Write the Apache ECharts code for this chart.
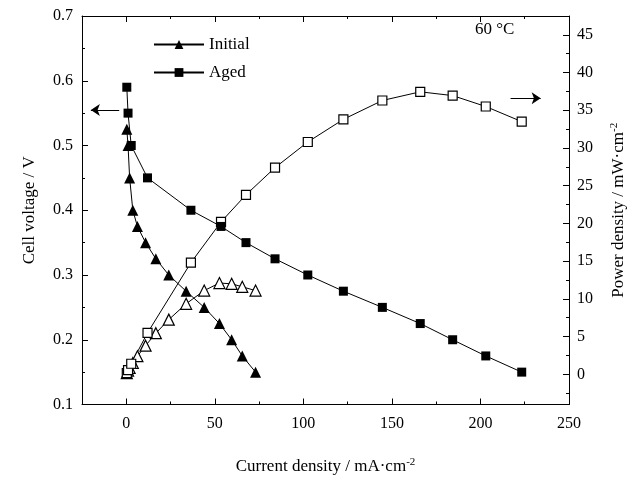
<!DOCTYPE html>
<html>
<head>
<meta charset="utf-8">
<script src="https://cdn.jsdelivr.net/npm/echarts@6/dist/echarts.min.js"></script>
<style>html,body{margin:0;padding:0;background:#fff}#c{width:638px;height:480px}</style>
</head>
<body>
<div id="c"></div>
<script>
// ---- data ----
const currentInitial = [0.3, 1.0, 1.9, 3.7, 6.3, 10.9, 16.7, 24, 33.8, 44, 52.6, 59.5, 65.5, 73];
const voltageInitial = [0.525, 0.5, 0.45, 0.4, 0.375, 0.35, 0.325, 0.3, 0.275, 0.25, 0.225, 0.2, 0.175, 0.15];
const powerInitial   = [0.15, 0.5, 0.85, 1.5, 2.4, 3.8, 5.45, 7.25, 9.35, 11.1, 12.1, 12.0, 11.6, 11.1];

const currentAged = [0.3, 1.0, 2.8, 12, 36.5, 53.5, 67.6, 84, 102.5, 122.6, 144.6, 166, 184.3, 203, 223.3];
const voltageAged = [0.59, 0.55, 0.5, 0.45, 0.4, 0.375, 0.35, 0.325, 0.3, 0.275, 0.25, 0.225, 0.2, 0.175, 0.15];
const powerAged   = [0.15, 0.55, 1.4, 5.5, 14.8, 20.2, 23.8, 27.4, 30.8, 33.8, 36.3, 37.45, 36.95, 35.5, 33.5];

const xTickLabels = [0, 50, 100, 150, 200, 250];
const xMinorTicks = [25, 75, 125, 175, 225];
const powerTickLabels = [0, 5, 10, 15, 20, 25, 30, 35, 40, 45];
const powerMinorTicks = [-2.5, 2.5, 7.5, 12.5, 17.5, 22.5, 27.5, 32.5, 37.5, 42.5];
const legendNames = ['Initial', 'Aged'];
const tempLabel = '60 °C';

// ---- chart ----
const FONT = 'Liberation Serif';
const black = '#000';
const lineSt = {color: black, width: 1};
const pairs = (a, b) => a.map((v, i) => [v, b[i]]);

const chart = echarts.init(document.getElementById('c'), null, {renderer: 'canvas'});

const supRich = {
  base: {fontFamily: FONT, fontSize: 17, color: black},
  sup: {fontFamily: FONT, fontSize: 11, color: black, padding: [0, 0, 9, 0]}
};

const option = {
  animation: false,
  backgroundColor: '#fff',
  textStyle: {fontFamily: FONT, color: black},
  grid: {left: 82, right: 69, top: 16, bottom: 75},
  legend: {
    data: legendNames,
    orient: 'vertical',
    left: 148,
    top: 31,
    itemWidth: 50,
    itemHeight: 11,
    itemGap: 11,
    textStyle: {fontFamily: FONT, fontSize: 17, color: black},
    inactiveColor: '#999'
  },
  xAxis: [
    {
      type: 'value', min: -25, max: 250, position: 'bottom',
      axisLine: {show: true, onZero: false, lineStyle: lineSt},
      axisTick: {show: true, inside: true, length: 6, customValues: xTickLabels, lineStyle: lineSt},
      axisLabel: {customValues: xTickLabels, fontFamily: FONT, fontSize: 16, color: black, margin: 11},
      splitLine: {show: false},
      name: '{base|Current density / mA·cm}{sup|-2}',
      nameLocation: 'middle', nameGap: 52,
      nameTextStyle: {rich: supRich}
    },
    {
      type: 'value', min: -25, max: 250, position: 'bottom',
      axisLine: {show: false, onZero: false},
      axisTick: {show: true, inside: true, length: 3, customValues: xMinorTicks, lineStyle: lineSt},
      axisLabel: {show: false}, splitLine: {show: false}
    },
    {
      type: 'value', min: -25, max: 250, position: 'top',
      axisLine: {show: true, onZero: false, lineStyle: lineSt},
      axisTick: {show: true, inside: true, length: 6, customValues: xTickLabels, lineStyle: lineSt},
      axisLabel: {show: false}, splitLine: {show: false}
    },
    {
      type: 'value', min: -25, max: 250, position: 'top',
      axisLine: {show: false, onZero: false},
      axisTick: {show: true, inside: true, length: 3, customValues: xMinorTicks, lineStyle: lineSt},
      axisLabel: {show: false}, splitLine: {show: false}
    }
  ],
  yAxis: [
    {
      type: 'value', min: 0.1, max: 0.7, interval: 0.1, position: 'left',
      axisLine: {show: true, onZero: false, lineStyle: lineSt},
      axisTick: {show: true, inside: true, length: 6, lineStyle: lineSt},
      minorTick: {show: true, splitNumber: 2, length: 3, lineStyle: lineSt},
      axisLabel: {fontFamily: FONT, fontSize: 16, color: black, margin: 9, formatter: v => v.toFixed(1)},
      splitLine: {show: false}, minorSplitLine: {show: false},
      name: 'Cell voltage / V', nameLocation: 'middle', nameGap: 44, nameRotate: 90,
      nameTextStyle: {fontFamily: FONT, fontSize: 17, color: black}
    },
    {
      type: 'value', min: -4, max: 47.5, position: 'right',
      axisLine: {show: true, onZero: false, lineStyle: lineSt},
      axisTick: {show: true, inside: true, length: 6, customValues: powerTickLabels, lineStyle: lineSt},
      axisLabel: {customValues: powerTickLabels, fontFamily: FONT, fontSize: 16, color: black, margin: 8},
      splitLine: {show: false},
      name: '{base|Power density / mW·cm}{sup|-2}',
      nameLocation: 'middle', nameGap: 40, nameRotate: 90,
      nameTextStyle: {rich: supRich}
    },
    {
      type: 'value', min: -4, max: 47.5, position: 'right',
      axisLine: {show: false, onZero: false},
      axisTick: {show: true, inside: true, length: 3, customValues: powerMinorTicks, lineStyle: lineSt},
      axisLabel: {show: false}, splitLine: {show: false}
    }
  ],
  series: [
    {
      name: 'Initial', type: 'line', xAxisIndex: 0, yAxisIndex: 0,
      data: pairs(currentInitial, voltageInitial),
      symbol: 'triangle', symbolSize: 11,
      lineStyle: {color: black, width: 1}, itemStyle: {color: black, borderWidth: 0},
      z: 3
    },
    {
      name: 'Aged', type: 'line', xAxisIndex: 0, yAxisIndex: 0,
      data: pairs(currentAged, voltageAged),
      symbol: 'rect', symbolSize: 9,
      lineStyle: {color: black, width: 1}, itemStyle: {color: black, borderWidth: 0},
      z: 3,
      markLine: {
        silent: true, symbol: ['none', 'arrow'], symbolSize: 9,
        label: {show: false},
        lineStyle: {color: black, width: 1, type: 'solid'},
        data: [[{coord: [-4, 0.555]}, {coord: [-20, 0.555]}]]
      }
    },
    {
      name: 'Initial power', type: 'line', xAxisIndex: 0, yAxisIndex: 1,
      data: pairs(currentInitial, powerInitial),
      symbol: 'triangle', symbolSize: 11,
      lineStyle: {color: black, width: 1}, itemStyle: {color: '#fff', borderColor: black, borderWidth: 1.2},
      z: 2
    },
    {
      name: 'Aged power', type: 'line', xAxisIndex: 0, yAxisIndex: 1,
      data: pairs(currentAged, powerAged),
      symbol: 'rect', symbolSize: 9,
      lineStyle: {color: black, width: 1}, itemStyle: {color: '#fff', borderColor: black, borderWidth: 1.2},
      z: 2,
      markLine: {
        silent: true, symbol: ['none', 'arrow'], symbolSize: 9,
        label: {show: false},
        lineStyle: {color: black, width: 1, type: 'solid'},
        data: [[{coord: [217, 36.6]}, {coord: [234, 36.6]}]]
      }
    }
  ],
  graphic: [
    {type: 'text', left: 475, top: 21, style: {text: tempLabel, font: '17px "Liberation Serif"', fill: black}}
  ]
};
chart.setOption(option);
</script>
</body>
</html>
